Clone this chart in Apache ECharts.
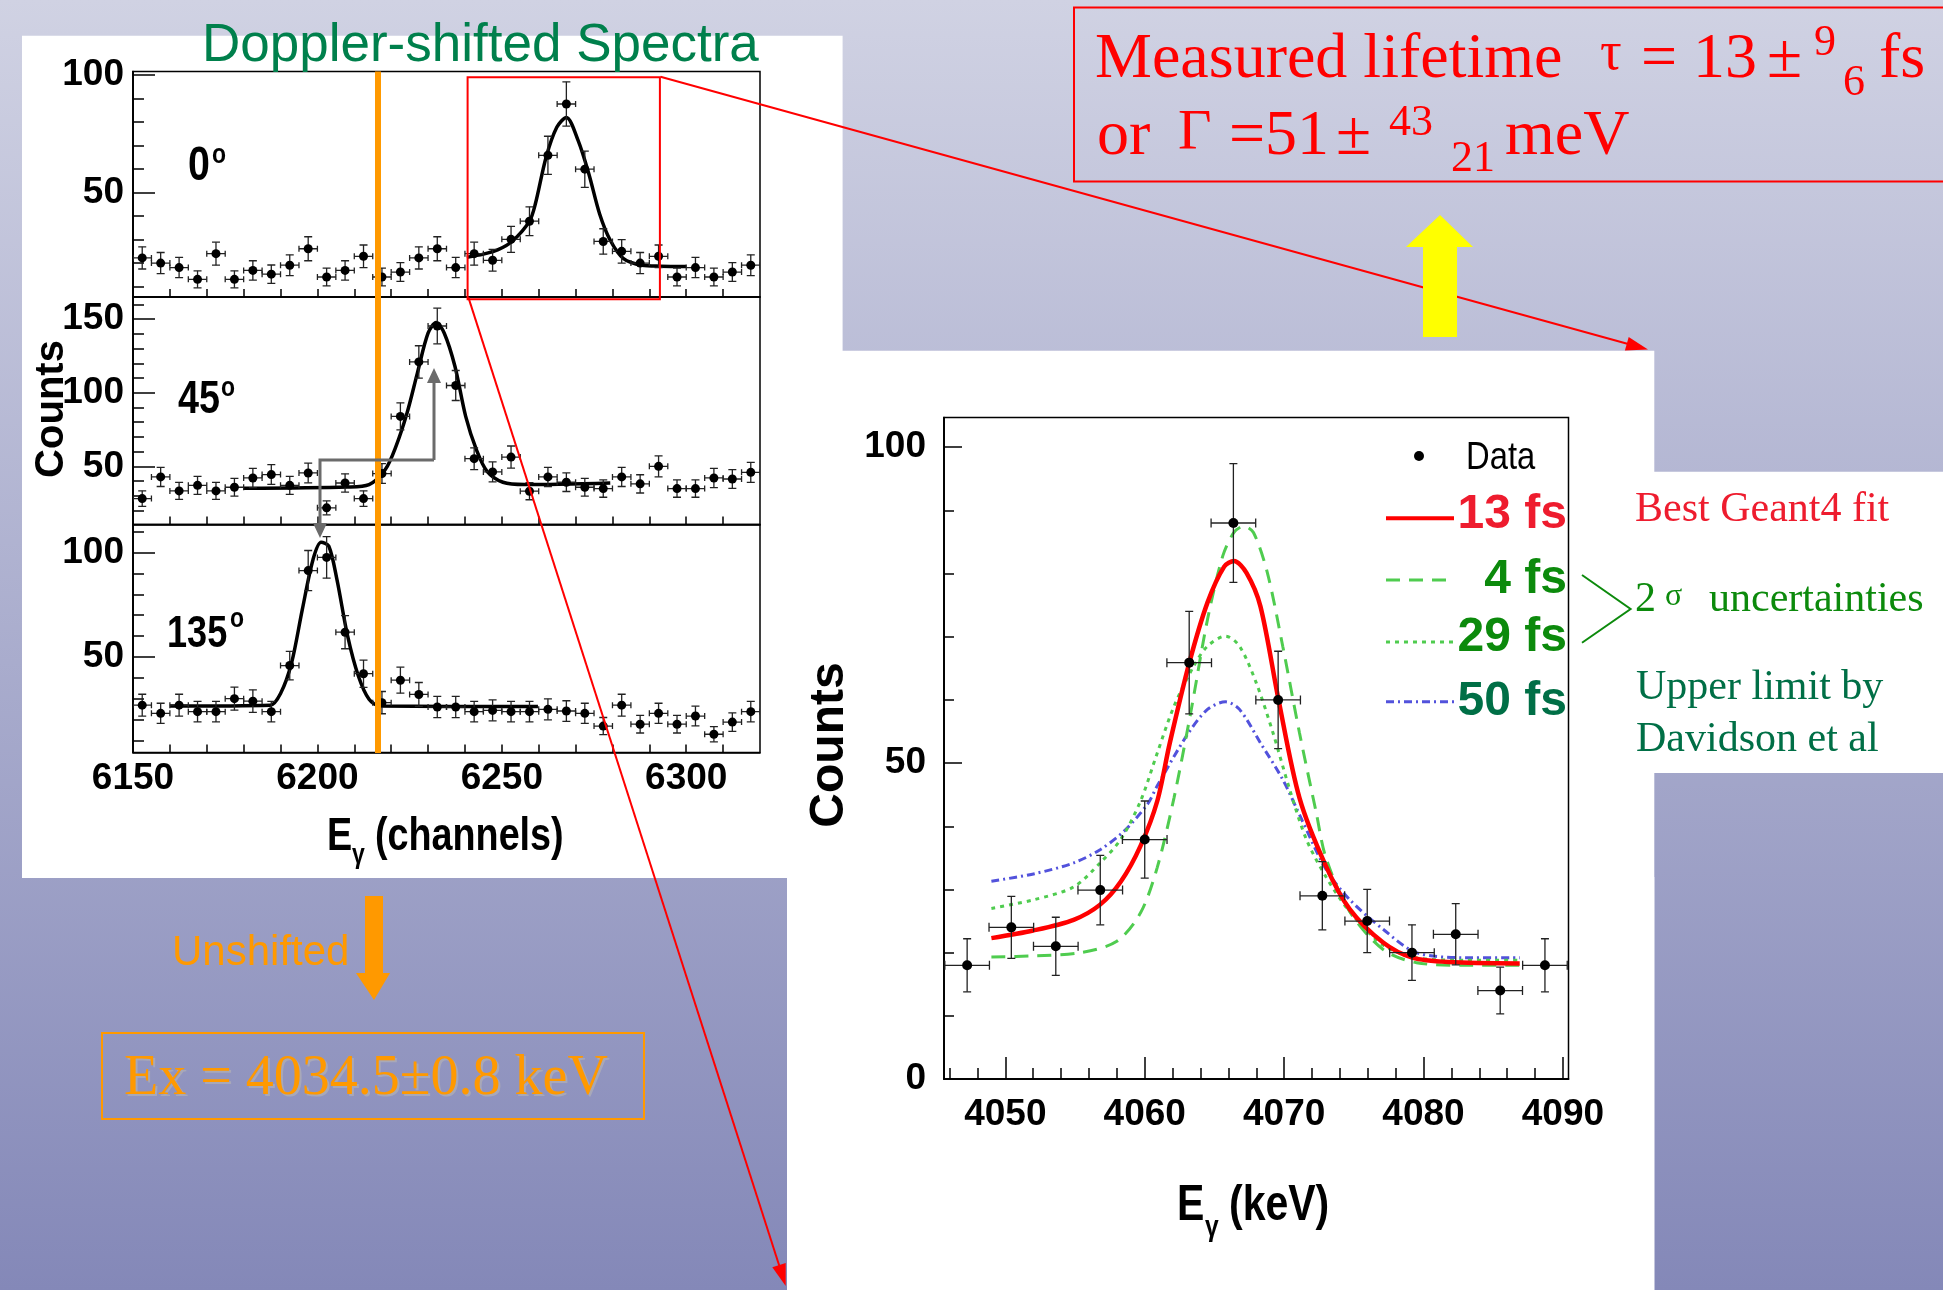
<!DOCTYPE html>
<html>
<head>
<meta charset="UTF-8">
<title>Doppler-shifted Spectra</title>
<style>
    html, body { margin: 0; padding: 0; }
    #main { width: 1943px; height: 1290px; }
</style>
</head>
<body>
<div id="main"></div>
<script src="https://cdn.jsdelivr.net/npm/echarts@6/dist/echarts.min.js"></script>
<script>
// ---- left panels: 5-channel bins, counts ----
var channels = [6152.5, 6157.5, 6162.5, 6167.5, 6172.5, 6177.5, 6182.5, 6187.5, 6192.5, 6197.5,
    6202.5, 6207.5, 6212.5, 6217.5, 6222.5, 6227.5, 6232.5, 6237.5, 6242.5, 6247.5,
    6252.5, 6257.5, 6262.5, 6267.5, 6272.5, 6277.5, 6282.5, 6287.5, 6292.5, 6297.5,
    6302.5, 6307.5, 6312.5, 6317.5];
var counts0deg = [22.2, 20.0, 18.1, 13.1, 24.0, 13.1, 16.9, 15.3, 19.1, 26.1, 14.1, 16.9, 22.9, 14.1, 16.2, 22.2, 26.1,
    18.1, 24.0, 21.2, 30.1, 37.8, 65.8, 87.6, 59.9, 29.2, 25.0, 20.0, 22.9, 14.1, 18.1, 14.1, 16.2, 19.1];
var err0deg = [4.7, 4.5, 4.3, 3.6, 4.9, 3.6, 4.1, 3.9, 4.4, 5.1, 3.8, 4.1, 4.8, 3.8, 4.0, 4.7, 5.1,
    4.3, 4.9, 4.6, 5.5, 6.1, 8.1, 9.4, 7.7, 5.4, 5.0, 4.5, 4.8, 3.8, 4.3, 3.8, 4.0, 4.4];
var counts45deg = [28.1, 42.8, 33.3, 37.1, 33.3, 35.8, 42.1, 44.4, 37.1, 45.5, 21.8, 38.7, 28.1, 45.1, 83.9, 120.9, 145.3,
    104.9, 55.2, 46.2, 56.3, 33.1, 42.8, 39.2, 35.8, 34.9, 42.8, 38.1, 50.0, 34.9, 34.9, 42.1, 41.4, 45.9];
var err45deg = [5.3, 6.5, 5.8, 6.1, 5.8, 6.0, 6.5, 6.7, 6.1, 6.7, 4.7, 6.2, 5.3, 6.7, 9.2, 11.0, 12.1,
    10.2, 7.4, 6.8, 7.5, 5.8, 6.5, 6.3, 6.0, 5.9, 6.5, 6.2, 7.1, 5.9, 5.9, 6.5, 6.4, 6.8];
var counts135deg = [27.1, 23.2, 27.1, 24.0, 24.0, 30.2, 29.0, 24.0, 46.0, 91.3, 97.6, 61.9, 42.1, 28.3, 39.0, 32.2, 26.2,
    26.2, 24.0, 24.6, 24.0, 24.0, 25.1, 24.3, 23.2, 17.1, 27.1, 18.0, 23.2, 18.0, 21.9, 13.2, 19.0, 24.0];
var err135deg = [5.2, 4.8, 5.2, 4.9, 4.9, 5.5, 5.4, 4.9, 6.8, 9.6, 9.9, 7.9, 6.5, 5.3, 6.2, 5.7, 5.1,
    5.1, 4.9, 5.0, 4.9, 4.9, 5.0, 4.9, 4.8, 4.1, 5.2, 4.2, 4.8, 4.2, 4.7, 3.6, 4.4, 4.9];
var channelHalfBin = 2.5;

// fitted peak shapes [channel, counts]
var fit0deg = [[6240.5, 22.5], [6245, 23.8], [6249, 25.7], [6253, 29.5], [6257.5, 37.8], [6259.1, 45.2], [6262, 65],
    [6264.9, 77.7], [6267.5, 81.9], [6270.7, 72], [6273.6, 57.9], [6276.5, 41], [6279.4, 29.7], [6283, 21.9],
    [6288, 19.1], [6293, 18.7], [6300, 18.6]];
var fit45deg = [[6180, 35.1], [6208.2, 36.0], [6214, 37.6], [6218.4, 47.8], [6221.3, 63.6], [6224.3, 86.2], [6227.1, 113.3],
    [6230, 140.4], [6232.2, 147.6], [6234.4, 140.4], [6237.3, 117.8], [6240.2, 83.9], [6243.1, 61.3], [6246, 46.6],
    [6250.3, 39.2], [6256.2, 37.6], [6279.4, 38.7]];
var fit135deg = [[6160, 26.7], [6187.2, 27.1], [6190.1, 33.0], [6193, 47.3], [6195.9, 72.7], [6198.8, 96.5], [6201, 104.8],
    [6203.1, 102.9], [6205.3, 87], [6208.2, 60], [6211.1, 41], [6214, 29.9], [6217, 26.7], [6259.8, 26.4]];

// ---- right panel: 0 deg peak in keV ----
var energies = [4047.26, 4050.43, 4053.62, 4056.81, 4060.0, 4063.19, 4066.36, 4069.57, 4072.74, 4075.96, 4079.17, 4082.31, 4085.5, 4088.71];
var countsKeV = [18.0, 24.0, 21.0, 29.9, 37.9, 65.9, 88.0, 60.0, 29.0, 25.0, 20.0, 22.9, 14.0, 18.0];
var errKeV = [4.2, 4.9, 4.6, 5.5, 6.1, 8.1, 9.4, 7.7, 5.4, 5.0, 4.4, 4.85, 3.7, 4.2];
var keVHalfBin = 1.6;

var fit13fs = [[4049.0, 22.3], [4052.0, 23.5], [4054.9, 25.2], [4056.8, 27.6], [4058.3, 31.3], [4059.7, 36.9], [4060.9, 44.0],
    [4061.8, 53.2], [4063.2, 65.9], [4064.5, 75.4], [4065.7, 81.1], [4066.4, 82.0], [4067.3, 80.1], [4068.3, 74.8],
    [4069.6, 60.0], [4071.1, 44.5], [4073.0, 33.7], [4074.7, 26.9], [4077.1, 21.6], [4079.2, 19.2], [4081.8, 18.5], [4086.9, 18.3]];
var fit4fs = [[4049.0, 19.3], [4052.1, 19.5], [4055.4, 20.0], [4058.0, 21.8], [4059.7, 26.3], [4060.9, 33.5], [4062.1, 44.5],
    [4063.3, 58.0], [4064.5, 72.7], [4065.6, 82.8], [4066.4, 86.5], [4067.1, 87.5], [4067.8, 86.5], [4068.8, 80.1],
    [4069.9, 68.5], [4071.1, 54.8], [4072.3, 42.2], [4073.0, 35.0], [4074.7, 26.5], [4077.1, 20.5], [4079.5, 18.4], [4083.0, 18.0], [4086.9, 18.0]];
var fit29fs = [[4049.0, 27.0], [4052.1, 28.4], [4054.9, 30.4], [4056.8, 34.2], [4058.3, 38.0], [4059.7, 44.0], [4060.9, 51.6],
    [4062.1, 59.0], [4063.5, 65.3], [4064.5, 68.5], [4065.8, 70.1], [4066.8, 68.5], [4068.0, 62.7], [4069.2, 54.8],
    [4070.4, 45.8], [4071.6, 37.9], [4073.0, 32.0], [4074.7, 26.5], [4077.1, 21.2], [4079.5, 19.2], [4083.0, 18.8], [4086.9, 18.8]];
var fit50fs = [[4049.0, 31.3], [4052.1, 32.5], [4054.9, 34.2], [4056.8, 36.3], [4058.5, 39.2], [4060.2, 43.5], [4060.9, 46.4],
    [4063.0, 54.3], [4064.5, 58.5], [4065.8, 59.7], [4066.8, 58.5], [4068.3, 53.2], [4069.9, 47.4], [4071.3, 40.9],
    [4073.0, 33.2], [4074.7, 28.4], [4077.1, 23.7], [4079.5, 20.0], [4083.0, 19.2], [4086.9, 19.2]];

// ---- ticks / labels ----
var channelLabels = [6150, 6200, 6250, 6300];
var channelTicks = [6160, 6170, 6180, 6190, 6200, 6210, 6220, 6230, 6240, 6250, 6260, 6270, 6280, 6290, 6300, 6310];
var energyLabels = [4050, 4060, 4070, 4080, 4090];
var energyMinor = [4046, 4048, 4052, 4054, 4056, 4058, 4062, 4064, 4066, 4068, 4072, 4074, 4076, 4078, 4082, 4084, 4086, 4088];
var countLabels0 = [50, 100];
var countMinor0 = [10, 20, 30, 40, 60, 70, 80, 90];
var countLabels45 = [50, 100, 150];
var countMinor45 = [20, 30, 40, 60, 70, 80, 90, 110, 120, 130, 140, 160];
var countLabels135 = [50, 100];
var countMinor135 = [10, 20, 30, 40, 60, 70, 80, 90, 110];
var countLabelsKeV = [0, 50, 100];
var countMinorKeV = [10, 20, 30, 40, 60, 70, 80, 90];

var SANS = "'Liberation Sans', Arial, sans-serif";
var SERIF = "'Liberation Serif', 'Times New Roman', serif";
var NARROW_X = 0.82;   // no narrow face installed, squeeze Liberation Sans instead

function axis(grid, pos, min, max, ticks, tickLen, labels, fs, margin) {
    return {
        type: 'value', gridIndex: grid, position: pos, min: min, max: max,
        axisLine: {show: true, onZero: false, lineStyle: {color: '#000', width: 1.5}},
        axisTick: {show: true, inside: true, length: tickLen, customValues: ticks, lineStyle: {color: '#000', width: 1.5}},
        minorTick: {show: false},
        splitLine: {show: false},
        axisLabel: labels ? {show: true, customValues: labels, margin: margin, color: '#000',
            fontSize: fs, fontWeight: 'bold', fontFamily: SANS,
            formatter: function (v) { return String(v); }} : {show: false}
    };
}

function errorBars(xi, yi, xs, ys, yerr, xhalf, cap, xcap) {
    var data = xs.map(function (x, i) { return [x, ys[i], xhalf, yerr[i]]; });
    return {
        type: 'custom', xAxisIndex: xi, yAxisIndex: yi, data: data, z: 4, silent: true, clip: true,
        encode: {x: 0, y: 1},
        renderItem: function (params, api) {
            var x = api.value(0), y = api.value(1), dx = api.value(2), dy = api.value(3);
            var c = api.coord([x, y]);
            var l = api.coord([x - dx, y]), r = api.coord([x + dx, y]);
            var t = api.coord([x, y + dy]), b = api.coord([x, y - dy]);
            var st = {stroke: '#222', lineWidth: 1.3};
            var kids = [
                {type: 'line', shape: {x1: l[0], y1: c[1], x2: r[0], y2: c[1]}, style: st},
                {type: 'line', shape: {x1: c[0], y1: t[1], x2: c[0], y2: b[1]}, style: st},
                {type: 'line', shape: {x1: c[0] - cap, y1: t[1], x2: c[0] + cap, y2: t[1]}, style: st},
                {type: 'line', shape: {x1: c[0] - cap, y1: b[1], x2: c[0] + cap, y2: b[1]}, style: st}
            ];
            if (xcap) {
                kids.push({type: 'line', shape: {x1: l[0], y1: c[1] - xcap, x2: l[0], y2: c[1] + xcap}, style: st});
                kids.push({type: 'line', shape: {x1: r[0], y1: c[1] - xcap, x2: r[0], y2: c[1] + xcap}, style: st});
            }
            return {type: 'group', children: kids};
        }
    };
}

function points(xi, yi, xs, ys, size) {
    return {type: 'scatter', xAxisIndex: xi, yAxisIndex: yi, symbol: 'circle', symbolSize: size, z: 5, silent: true,
        itemStyle: {color: '#000', opacity: 1}, data: xs.map(function (x, i) { return [x, ys[i]]; })};
}

function curve(xi, yi, data, color, width, type, name) {
    return {type: 'line', name: name, xAxisIndex: xi, yAxisIndex: yi, data: data, showSymbol: false, symbol: 'none',
        smooth: 0.3, z: 3, silent: true, lineStyle: {color: color, width: width, type: type, opacity: 1}};
}

// plain text placed by its baseline
function T(x, base, str, size, color, family, weight, opts) {
    opts = opts || {};
    var el = {type: 'text', x: x, y: base - 0.31 * size, z: 100, silent: true,
        style: {text: str, fill: color, fontSize: size, fontFamily: family, fontWeight: weight || 'normal',
            align: opts.align || 'left', verticalAlign: 'middle'}};
    if (opts.scaleX) { el.scaleX = opts.scaleX; }
    return el;
}
function N(x, base, str, size, color, weight, opts) {
    opts = opts || {};
    opts.scaleX = NARROW_X;
    return T(x, base, str, size, color, SANS, weight, opts);
}
function rect(x, y, w, h, fill, stroke, z) {
    return {type: 'rect', z: z, silent: true, shape: {x: x, y: y, width: w, height: h},
        style: {fill: fill || 'none', stroke: stroke || 'none', lineWidth: 2}};
}
function seg(x1, y1, x2, y2, color, w, dash) {
    return {type: 'line', z: 100, silent: true, shape: {x1: x1, y1: y1, x2: x2, y2: y2},
        style: {stroke: color, lineWidth: w, lineDash: dash || null}};
}
function poly(pts, color, z) {
    return {type: 'polygon', z: z || 100, silent: true, shape: {points: pts}, style: {fill: color}};
}
function pline(pts, color, w) {
    return {type: 'polyline', z: 100, silent: true, shape: {points: pts}, style: {stroke: color, lineWidth: w, fill: null}};
}

var gridBase = {show: true, borderColor: '#000', borderWidth: 1.5, backgroundColor: 'rgba(0,0,0,0)',
    containLabel: false, outerBoundsMode: 'none'};
function grid(l, t, w, h) {
    var g = {left: l, top: t, width: w, height: h};
    for (var k in gridBase) { g[k] = gridBase[k]; }
    return g;
}

var RED = '#ff0000';
var GREEN = '#0c8a0c';
var DKGREEN = '#006f46';
var ORANGE = '#ff9900';
var LTGREEN = '#4fcc4f';
var BLUE = '#5252dc';

var graphics = [
    {type: 'rect', z: -100, silent: true, shape: {x: 0, y: 0, width: 1943, height: 1290},
        style: {fill: new echarts.graphic.LinearGradient(0, 0, 0, 1, [
            {offset: 0, color: '#d0d2e3'}, {offset: 1, color: '#8488b8'}])}},
    rect(22, 35.7, 820.6, 842.3, '#fff', null, -90),
    rect(842, 350.7, 812.3, 939.3, '#fff', null, -90),
    rect(787, 877, 867.3, 413, '#fff', null, -90),
    rect(1654, 471.7, 289, 301.3, '#fff', null, -90),

    // left panel texts
    T(202, 63.3, 'Doppler-shifted Spectra', 53, '#00804c', SANS),
    N(188, 182, '0', 48, '#000', 'bold'), N(212, 164, 'o', 28, '#000', 'bold'),
    N(178, 415, '45', 46, '#000', 'bold'), N(221, 397, 'o', 28, '#000', 'bold'),
    N(167, 648, '135', 44, '#000', 'bold'), N(230, 628, 'o', 28, '#000', 'bold'),
    {type: 'text', x: 52, y: 409, rotation: Math.PI / 2, z: 100, silent: true,
        style: {text: 'Counts', fill: '#000', fontSize: 40, fontWeight: 'bold', fontFamily: SANS, align: 'center', verticalAlign: 'middle'}},
    N(327, 852, 'E', 46, '#000', 'bold'), N(352, 864, 'γ', 28, '#000', 'bold'),
    N(375, 852, '(channels)', 46, '#000', 'bold'),

    // orange unshifted line and grey shift arrows
    seg(378, 71.5, 378, 753, ORANGE, 6),
    pline([[434, 460], [434, 383]], '#6b6b6b', 3), poly([[427, 383], [441, 383], [434, 368]], '#6b6b6b'),
    pline([[434, 460], [320, 460], [320, 523]], '#6b6b6b', 3), poly([[313, 523], [327, 523], [320, 538]], '#6b6b6b'),

    // zoom box and connecting red arrows
    rect(467.6, 77.3, 192.3, 222, null, RED, 100),
    seg(660.5, 76.8, 1630, 344.5, RED, 2), poly([[1648, 349.5], [1624.9, 350.4], [1628.7, 336.9]], RED),
    seg(468.4, 297.4, 780, 1268, RED, 2), poly([[785.7, 1286], [772.3, 1267.2], [785.7, 1263.0]], RED),

    // right plot axis titles
    {type: 'text', x: 830, y: 745, rotation: Math.PI / 2, z: 100, silent: true,
        style: {text: 'Counts', fill: '#000', fontSize: 48, fontWeight: 'bold', fontFamily: SANS, align: 'center', verticalAlign: 'middle'}},
    N(1177, 1222, 'E', 50, '#000', 'bold'), N(1205, 1237, 'γ', 30, '#000', 'bold'),
    N(1229, 1222, '(keV)', 50, '#000', 'bold'),

    // right plot legend
    {type: 'circle', z: 100, silent: true, shape: {cx: 1419, cy: 456, r: 5}, style: {fill: '#000'}},
    T(1466, 470, 'Data', 39, '#000', SANS, 'normal', {scaleX: 0.84}),
    seg(1386, 518.3, 1454, 518.3, RED, 4),
    T(1567, 530, '13 fs', 48, '#ee1c2e', SANS, 'bold', {align: 'right'}),
    seg(1386, 580, 1449, 580, LTGREEN, 3, [14, 9]),
    T(1567, 595, '4 fs', 48, GREEN, SANS, 'bold', {align: 'right'}),
    seg(1386, 642, 1454, 642, LTGREEN, 3, [4, 5]),
    T(1567, 653, '29 fs', 48, GREEN, SANS, 'bold', {align: 'right'}),
    seg(1386, 701.7, 1454, 701.7, BLUE, 3, [8, 4, 2, 4]),
    T(1567, 717, '50 fs', 48, DKGREEN, SANS, 'bold', {align: 'right'}),

    // side notes
    T(1635, 523, 'Best Geant4 fit', 42, '#ee1c2e', SERIF),
    pline([[1582, 575], [1630.6, 609], [1582, 642.7]], GREEN, 2),
    T(1635, 613, '2', 42, GREEN, SERIF), T(1665, 607, 'σ', 32, GREEN, SERIF),
    T(1709, 613, 'uncertainties', 42, GREEN, SERIF),
    T(1636, 700.5, 'Upper limit by', 42, DKGREEN, SERIF),
    T(1636, 753, 'Davidson et al', 42, DKGREEN, SERIF),

    // lifetime result box
    rect(1074, 7.5, 900, 174, null, RED, 100),
    T(1095, 80, 'Measured lifetime', 64, RED, SERIF),
    T(1600, 72, 'τ', 54, RED, SERIF),
    T(1641, 80, '= 13', 64, RED, SERIF),
    T(1767, 80, '±', 64, RED, SERIF),
    T(1814, 57, '9', 44, RED, SERIF),
    T(1843, 97, '6', 44, RED, SERIF),
    T(1879, 80, 'fs', 64, RED, SERIF),
    T(1097, 157, 'or', 64, RED, SERIF),
    T(1178, 152, 'Γ', 58, RED, SERIF),
    T(1229, 157, '=51', 64, RED, SERIF),
    T(1336, 157, '±', 64, RED, SERIF),
    T(1389, 137, '43', 44, RED, SERIF),
    T(1451, 173, '21', 44, RED, SERIF),
    T(1505, 157, 'meV', 64, RED, SERIF),

    // yellow arrow
    poly([[1440, 215], [1473, 247], [1457, 247], [1457, 337], [1423, 337], [1423, 247], [1406, 247]], '#ffff00'),

    // unshifted arrow and excitation energy
    poly([[365, 896], [383, 896], [383, 973], [390, 973], [374, 1000], [356, 973], [365, 973]], ORANGE),
    T(172, 966, 'Unshifted', 42, ORANGE, SANS),
    rect(102, 1033, 542, 86, null, ORANGE, 100),
    T(126, 1099, 'Ex = 4034.5±0.8 keV', 56, '#a8a8b8', SERIF),
    T(124, 1097, 'Ex = 4034.5±0.8 keV', 56, ORANGE, SERIF)
];

var option = {
    animation: false,
    graphic: {elements: graphics},
    grid: [
        grid(133, 71.5, 627, 225.5),
        grid(133, 297, 627, 227.5),
        grid(133, 524.5, 627, 228),
        grid(944, 417.5, 624.5, 661.5)
    ],
    xAxis: [
        axis(0, 'bottom', 6150, 6320, channelTicks, 8, null),
        axis(1, 'bottom', 6150, 6320, channelTicks, 8, null),
        axis(2, 'bottom', 6150, 6320, channelTicks, 8, channelLabels, 37, 8),
        axis(3, 'bottom', 4045.6, 4090.4, energyLabels, 22, energyLabels, 37, 17),
        axis(3, 'bottom', 4045.6, 4090.4, energyMinor, 11, null)
    ],
    yAxis: [
        axis(0, 'left', 5.6, 101.4, countLabels0, 22, countLabels0, 37, 9),
        axis(0, 'left', 5.6, 101.4, countMinor0, 11, null),
        axis(1, 'left', 10.5, 165, countLabels45, 22, countLabels45, 37, 9),
        axis(1, 'left', 10.5, 165, countMinor45, 11, null),
        axis(2, 'left', 4.5, 113.3, countLabels135, 22, countLabels135, 37, 9),
        axis(2, 'left', 4.5, 113.3, countMinor135, 11, null),
        axis(3, 'left', 0, 104.7, [50, 100], 18, countLabelsKeV, 37, 18),
        axis(3, 'left', 0, 104.7, countMinorKeV, 10, null)
    ],
    series: [
        curve(0, 0, fit0deg, '#000', 3.5, 'solid'),
        errorBars(0, 0, channels, counts0deg, err0deg, channelHalfBin, 4, 3),
        points(0, 0, channels, counts0deg, 9),
        curve(1, 2, fit45deg, '#000', 3.5, 'solid'),
        errorBars(1, 2, channels, counts45deg, err45deg, channelHalfBin, 4, 3),
        points(1, 2, channels, counts45deg, 9),
        curve(2, 4, fit135deg, '#000', 3.5, 'solid'),
        errorBars(2, 4, channels, counts135deg, err135deg, channelHalfBin, 4, 3),
        points(2, 4, channels, counts135deg, 9),

        curve(3, 6, fit50fs, BLUE, 3, [8, 4, 2, 4], '50 fs'),
        curve(3, 6, fit29fs, LTGREEN, 3, [4, 5], '29 fs'),
        curve(3, 6, fit4fs, LTGREEN, 3, [14, 9], '4 fs'),
        curve(3, 6, fit13fs, '#ff0000', 4.5, 'solid', '13 fs'),
        errorBars(3, 6, energies, countsKeV, errKeV, keVHalfBin, 4, 4.5),
        points(3, 6, energies, countsKeV, 10)
    ]
};

var chart = echarts.init(document.getElementById('main'));
chart.setOption(option);
</script>
</body>
</html>
